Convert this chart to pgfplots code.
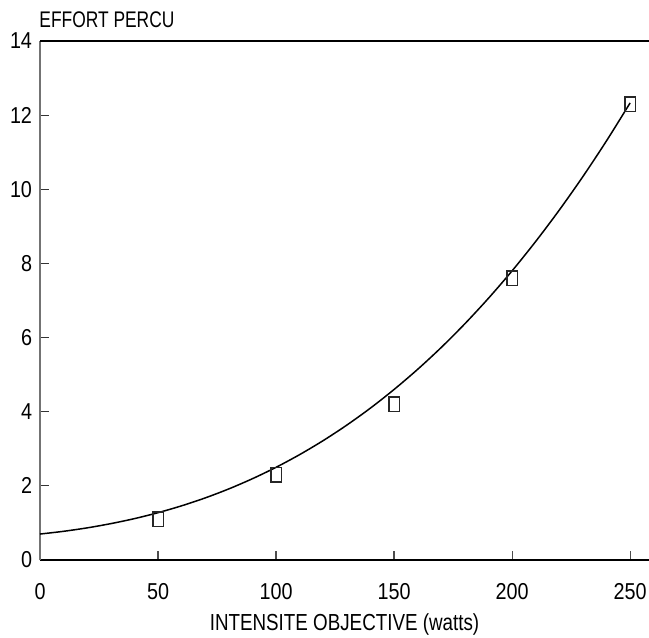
\documentclass[border=0pt]{standalone}
\usepackage{fontspec}
\setmainfont{Liberation Sans}[FakeStretch=0.8]
\newfontfamily\tickfont{Liberation Sans}[FakeStretch=0.86]
\newfontfamily\labelfont{Liberation Sans}[FakeStretch=0.81]
\newfontfamily\titlefont{Liberation Sans}[FakeStretch=0.77]
\usepackage{pgfplots}
\pgfplotsset{compat=1.18}

% measured ratings
\pgfplotstableread{
x y
50 1.1
100 2.3
150 4.2
200 7.6
250 12.3
}\ratings

% fitted trend
\pgfplotstableread{
x y
0 0.700
10 0.774
20 0.867
30 0.981
40 1.116
50 1.276
60 1.462
70 1.675
80 1.918
90 2.193
100 2.500
110 2.843
120 3.222
130 3.640
140 4.098
150 4.600
160 5.144
170 5.734
180 6.373
190 7.061
200 7.800
210 8.593
220 9.440
230 10.344
240 11.307
250 12.330
}\trend

\begin{document}
\begin{tikzpicture}
\begin{axis}[
  name=ax, at={(0,0)}, anchor=south west,
  scale only axis, width=304.5bp, height=259.5bp,
  xmin=0, xmax=258, ymin=0, ymax=14,
  xtick={0,50,100,150,200,250}, ytick={0,2,4,6,8,10,12,14},
  axis x line*=bottom, axis y line*=left,
  x axis line style={-, black, line width=1.2bp},
  y axis line style={-, black!55, line width=1bp},
  tick align=inside, major tick length=4.5bp,
  xtick style={black!70, line width=0.6bp},
  ytick style={black!80, line width=0.6bp},
  /pgf/number format/assume math mode=true,
  ticklabel style={font=\tickfont\fontsize{11.5bp}{13bp}\selectfont, inner sep=0pt},
  xticklabel style={anchor=north, yshift=-11.5bp},
  yticklabel style={anchor=east, xshift=-3.8bp},
  xlabel={INTENSITE OBJECTIVE (watts)},
  xlabel style={at={(axis description cs:0.5,0)}, anchor=base, yshift=-35bp,
    inner sep=0pt, font=\labelfont\fontsize{11.6bp}{13bp}\selectfont},
  clip=false,
]
\addplot[black, line width=0.75bp, smooth, no marks] table {\trend};
\addplot[only marks, mark=square, mark size=3.6bp,
  mark options={xscale=0.72, draw=black!85, line width=0.7bp, fill=none}] table {\ratings};
\draw[black, line width=0.9bp] (rel axis cs:0,1) -- (rel axis cs:1,1);
\node[anchor=base west, inner sep=0pt, yshift=6.7bp, xshift=-0.5bp,
  font=\titlefont\fontsize{11.3bp}{13bp}\selectfont] at (rel axis cs:0,1) {EFFORT PERCU};
\end{axis}
\pgfresetboundingbox
\path (-20bp,-39bp) rectangle (304.5bp,280bp);
\end{tikzpicture}
\end{document}
